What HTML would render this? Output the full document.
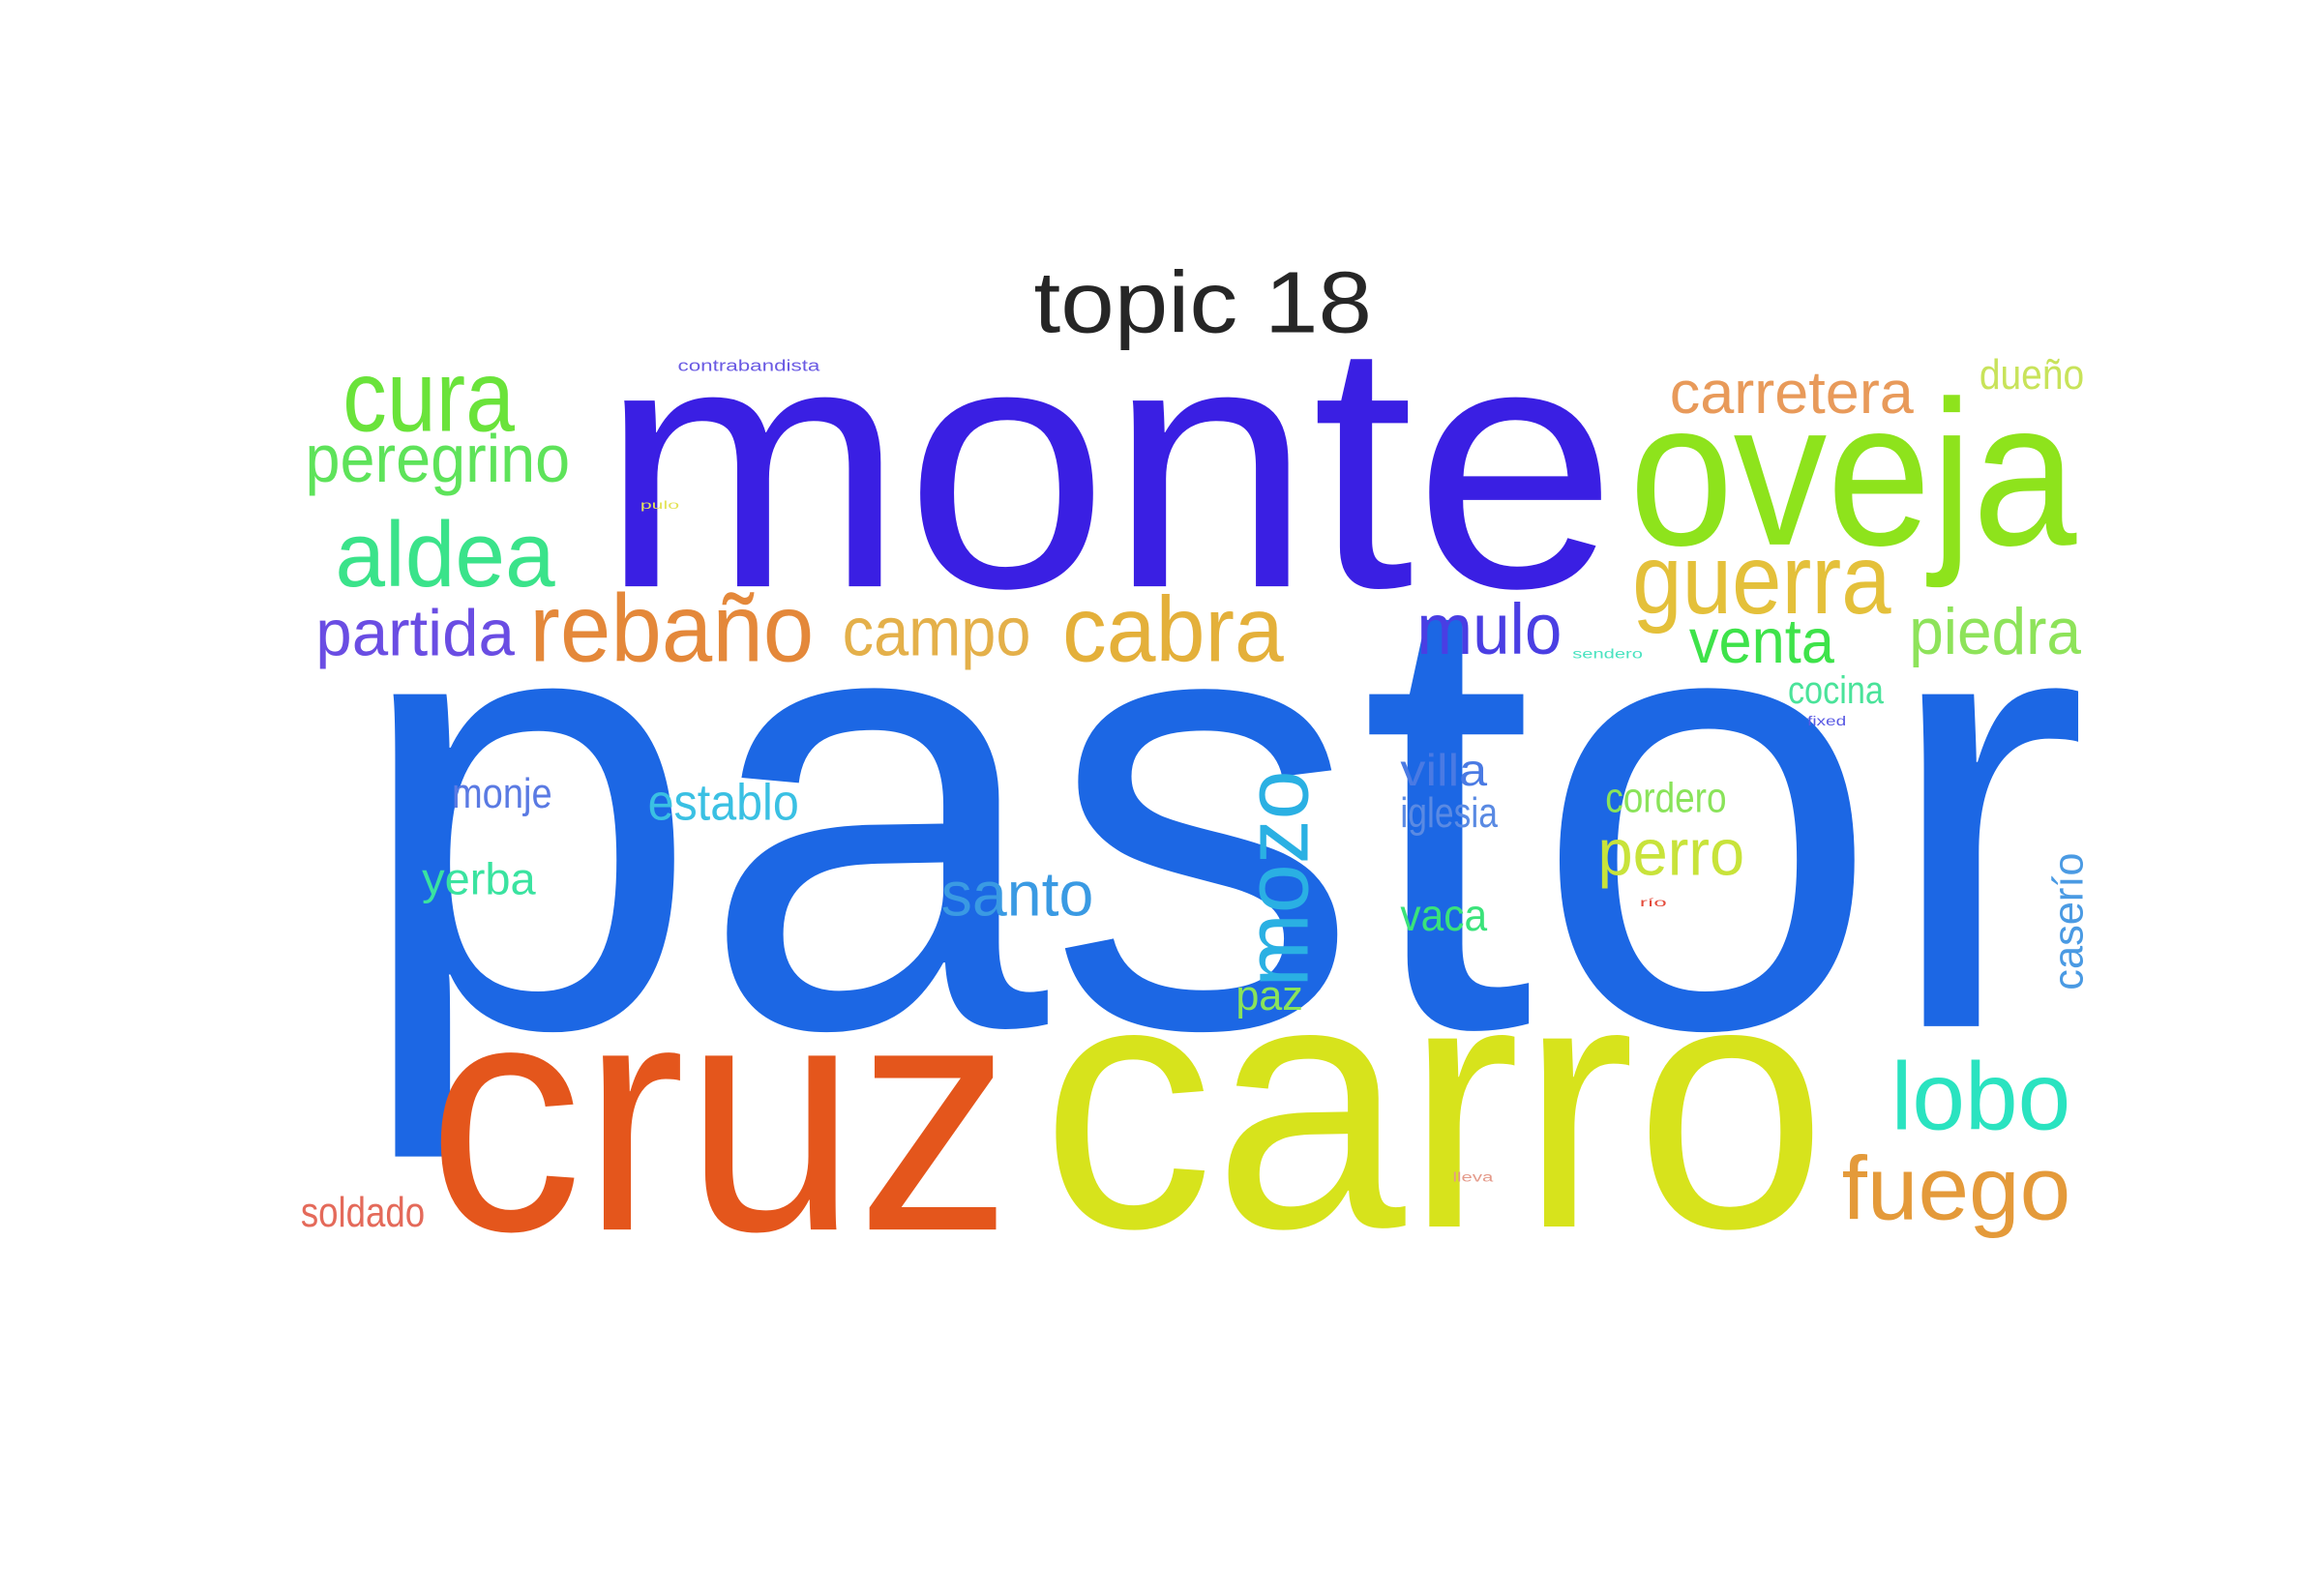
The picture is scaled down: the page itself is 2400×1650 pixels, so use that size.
<!DOCTYPE html>
<html><head><meta charset="utf-8"><style>
html,body{margin:0;padding:0;background:#fff;width:2400px;height:1650px;overflow:hidden}
svg{display:block}
text{font-family:"Liberation Sans",sans-serif}
</style></head><body>
<svg width="2400" height="1650" viewBox="0 0 1552 1067" preserveAspectRatio="none">
<text x="804" y="222" text-anchor="middle" font-size="58" fill="#262626" textLength="226" lengthAdjust="spacingAndGlyphs">topic 18</text>
<g id="words"></g>
</svg>
<script>
const words=["pastor","monte","cruz","carro","oveja","cura","peregrino","aldea","partida","rebaño","campo","cabra","mulo","guerra","venta","piedra","carretera","dueño","contrabandista","cocina","sendero","fixed","monje","establo","villa","iglesia","cordero","perro","yerba","santo","mozo","caserío","vaca","paz","lobo","fuego","soldado","pulo","río","lleva"];
const colors=["#1c67e4","#3a1fe3","#e4561c","#d7e31c","#8ee31c","#6ae33a","#5ee35a","#3ae38a","#6a4de3","#e4883a","#e4b04a","#e4b03a","#4a3ee3","#e4c03a","#3ee34a","#8ee35a","#e89a5a","#c8e35a","#6a5ae3","#4ae39a","#4ae3c0","#5a5ae3","#5a7ae3","#3ac0e3","#4a7ae3","#5a8ae3","#8ae35a","#c8e33a","#3ae3a0","#3a9ae3","#2ab0e3","#4a9ae3","#3ae37a","#8ae35a","#2ae3c0","#e49a3a","#e46a5a","#e4e35a","#e44a3a","#e49a8a"];
const lx=[240,405,290,700,1093,233,208,228,215,358,567,714,951,1095,1133,1280,1120,1327,457,1199,1055,1212,306,437,940,940,1077,1072,286,633,878,1396,940,830,1268,1235,205,432,1100,975];
const lx2=[1400,1085,680,1225,1392,348,385,375,348,548,693,862,1048,1268,1230,1395,1283,1397,552,1263,1102,1238,373,538,998,1005,1158,1170,362,735,878,1396,998,875,1388,1388,288,458,1118,1002];
const ly=[686,392,822,820,364,288,322,392,438,442,438,442,437,410,443,437,276,260,248,470,440,485,540,548,525,553,543,585,598,612,660,662,622,675,755,815,820,340,606,790];
const fs=[420,235,220,238,138,68,45,62,44,64,46,62,48,66,42,44,40,28,11,26,9,9,28,34,30,28,28,44,30,42,60,28,30,28,64,60,28,8,8,9];
const rotLen=[0,0,0,0,0,0,0,0,0,0,0,0,0,0,0,0,0,0,0,0,0,0,0,0,0,0,0,0,0,0,145,92,0,0,0,0,0,0,0,0];
const g=document.getElementById('words');
const NS="http://www.w3.org/2000/svg";
words.forEach((w,i)=>{
  const t=document.createElementNS(NS,'text');
  
  
  t.setAttribute('font-size',fs[i]);
  t.setAttribute('fill',colors[i]);
  t.setAttribute('lengthAdjust','spacingAndGlyphs');
  if(rotLen[i]){
    t.setAttribute('x',0);t.setAttribute('y',0);
    t.setAttribute('transform','translate('+(lx[i]-4)+','+ly[i]+') rotate(-90)');
    t.setAttribute('textLength',rotLen[i]);
  } else {
    t.setAttribute('x',lx[i]-4);t.setAttribute('y',ly[i]);
    t.setAttribute('textLength',lx2[i]-lx[i]);
  }
  t.textContent=w;
  g.appendChild(t);
});
</script>
</body></html>
